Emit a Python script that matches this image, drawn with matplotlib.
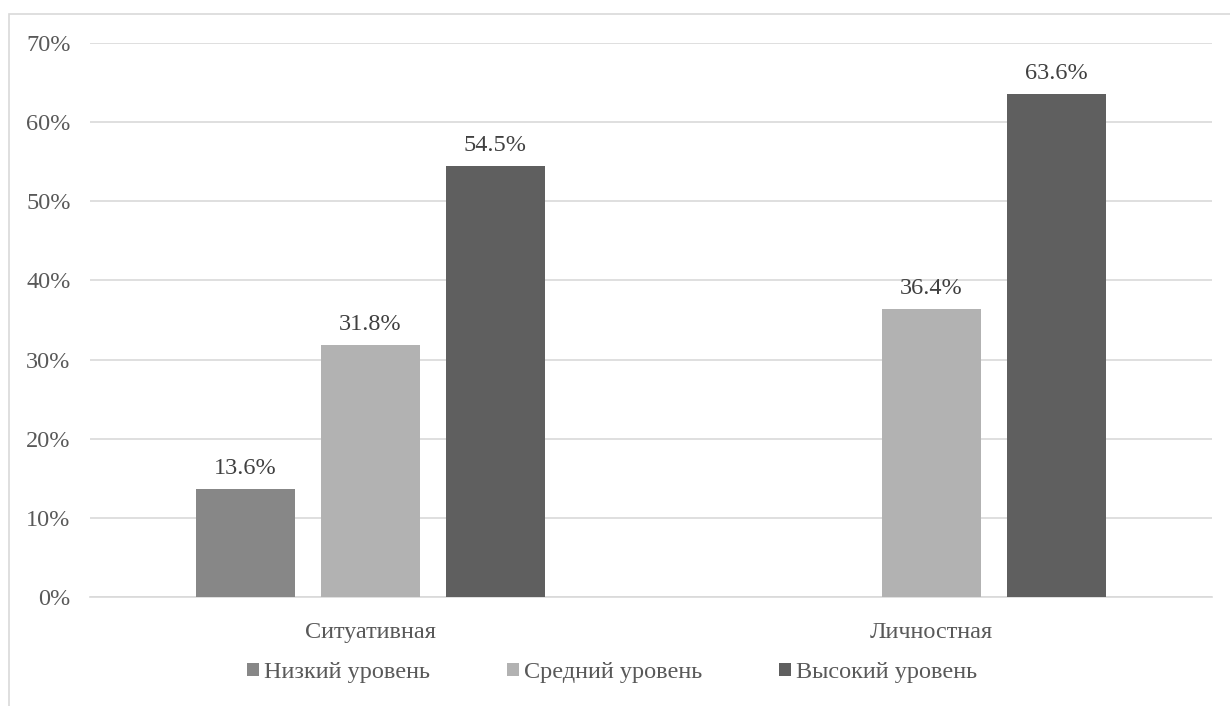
import numpy as np
import matplotlib.pyplot as plt
from matplotlib.patches import Rectangle

plt.rcParams['font.family'] = ['Liberation Serif', 'DejaVu Serif']

categories = ['Ситуативная', 'Личностная']
series_names = ['Низкий уровень', 'Средний уровень', 'Высокий уровень']
low = [13.6, 0.0]
mid = [31.8, 36.4]
high = [54.5, 63.6]
yticks = [0, 10, 20, 30, 40, 50, 60, 70]

colors = ['#878787', '#b2b2b2', '#5f5f5f']
text_color = '#595959'
fs = 17.5

fig = plt.figure(figsize=(12.3, 7.06), dpi=100)
ax = fig.add_axes([90 / 1230, 1 - 597 / 706, 1122 / 1230, 554 / 706])

x = np.arange(len(categories))
width = 0.175
step = 0.2228
for i, (vals, name) in enumerate(zip([low, mid, high], series_names)):
    pos = x + (i - 1) * step
    bars = ax.bar(pos, vals, width, color=colors[i], label=name, zorder=3)
    for b, v in zip(bars, vals):
        if v > 0:
            ax.text(b.get_x() + b.get_width() / 2, v + 1.25, f'{v:.1f}%',
                    ha='center', va='bottom', fontsize=fs, color='#404040')

ax.set_xlim(-0.5, 1.5)
ax.set_ylim(0, 70)
ax.set_yticks(yticks)
ax.set_yticklabels([f'{t}%' for t in yticks])
ax.set_xticks(x)
ax.set_xticklabels(categories)
ax.grid(axis='y', color='#d9d9d9', linewidth=1.2, zorder=0)
for s in ['top', 'right', 'left']:
    ax.spines[s].set_visible(False)
ax.spines['bottom'].set_color('#d9d9d9')
ax.spines['bottom'].set_linewidth(1.2)
ax.tick_params(axis='both', length=0, labelsize=fs, colors=text_color)
ax.tick_params(axis='y', pad=14)
ax.tick_params(axis='x', pad=18)

leg = ax.legend(loc='upper center', bbox_to_anchor=(522 / 1122, -0.078), ncol=3,
                frameon=False, fontsize=fs, handlelength=0.5, handleheight=0.5,
                handletextpad=0.2, columnspacing=3.15)
for t in leg.get_texts():
    t.set_color(text_color)

# chart border
fig.patches.append(Rectangle((9 / 1230, -0.01), 1.1, 1 - 14 / 706 + 0.01,
                             transform=fig.transFigure, fill=False,
                             edgecolor='#d9d9d9', linewidth=1.2))

fig.savefig('out.png', dpi=100)
